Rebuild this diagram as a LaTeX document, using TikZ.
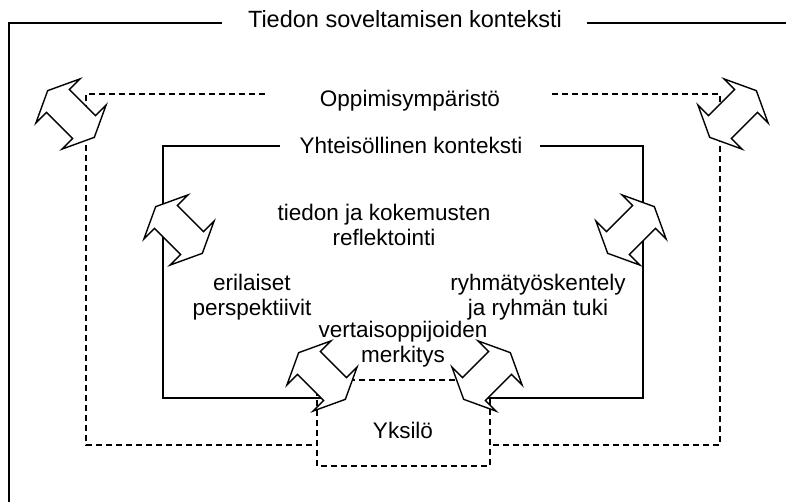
\documentclass[tikz,border=0pt]{standalone}
\usepackage{fontspec}
\setmainfont{Liberation Sans}
\usetikzlibrary{shapes.arrows}

\begin{document}
\begin{tikzpicture}[x=1pt,y=-1pt,
    every node/.style={font=\fontsize{22.5}{25}\selectfont, align=center, inner sep=0pt},
    frame line/.style={line width=1.4pt},
    dash line/.style={line width=1.3pt, dash pattern=on 6pt off 4pt},
    both ways/.style={double arrow, draw, fill=white, line width=1.4pt,
      double arrow tip angle=130, double arrow head extend=15pt,
      minimum height=66pt, inner sep=15.5pt}]
  \useasboundingbox (0,0) rectangle (786,502);

  \coordinate (ctxL) at (222,23);
  \coordinate (ctxR) at (587,23);
  \coordinate (envL) at (265,94);
  \coordinate (envR) at (552,94);
  \coordinate (comL) at (280,146);
  \coordinate (comR) at (540,146);

  \draw[frame line] (ctxL) -| (9,502);
  \draw[frame line] (ctxR) -- (786,23);
  \draw[dash line] (envL) -| (86,445) -- (317,445);
  \draw[dash line] (envR) -| (720,445) -- (490,445);
  \draw[dash line] (317,380) rectangle (490,466);
  \draw[frame line] (comL) -| (163,398) -- (322,398);
  \draw[frame line] (comR) -| (643,398) -- (487,398);

  \node[font=\fontsize{23.5}{26}\selectfont] (ctx) at (405,19) {Tiedon soveltamisen konteksti};
  \node (env) at (410,101) {Oppimisympäristö};
  \node (com) at (411,145) {Yhteisöllinen konteksti};
  \node (refl) at (384,225) {tiedon ja kokemusten\\reflektointi};
  \node (persp) at (252,297) {erilaiset\\perspektiivit};
  \node (group) at (538,297) {ryhmätyöskentely\\ja ryhmän tuki};
  \node (peer) at (403,344) {vertaisoppijoiden\\merkitys};
  \node (self) at (403,430) {Yksilö};

  \node[both ways, rotate=-45] (a1) at (71,114) {};
  \node[both ways, rotate=45] (a2) at (733,114) {};
  \node[both ways, rotate=-45] (a3) at (179,230) {};
  \node[both ways, rotate=45] (a4) at (631,230) {};
  \node[both ways, rotate=-45] (a5) at (322,376) {};
  \node[both ways, rotate=45] (a6) at (487,376) {};
\end{tikzpicture}
\end{document}
